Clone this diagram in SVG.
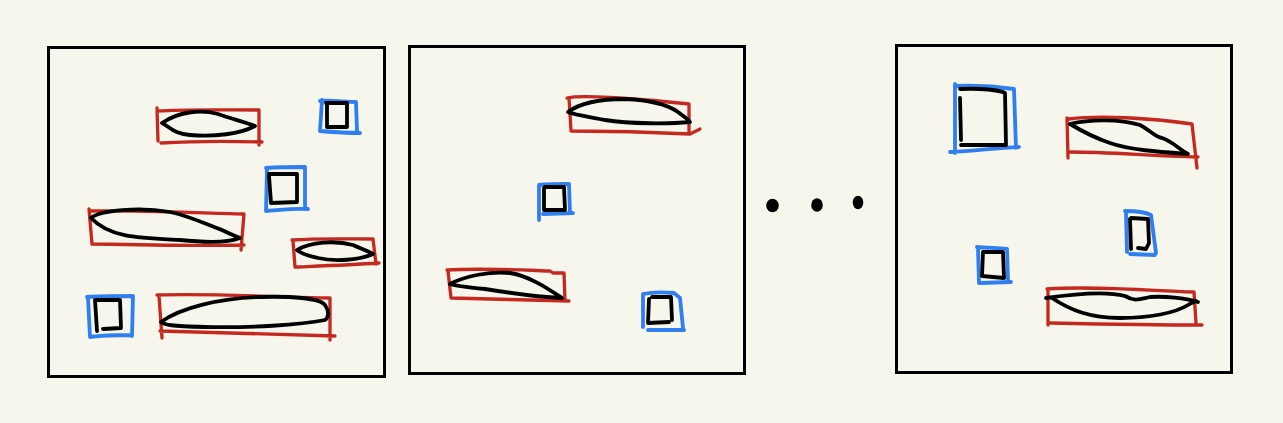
<svg xmlns="http://www.w3.org/2000/svg" width="1283" height="423" viewBox="0 0 1283 423">
<style>
.frame{fill:none;stroke:#000;stroke-width:3;stroke-linejoin:miter}
.red{fill:none;stroke:#c4281f;stroke-width:3.3;stroke-linecap:round;stroke-linejoin:round}
.blue{fill:none;stroke:#2f7ff0;stroke-width:3.8;stroke-linecap:round;stroke-linejoin:round}
.ink{fill:none;stroke:#000;stroke-width:3.8;stroke-linecap:round;stroke-linejoin:round}
</style>
<rect width="1283" height="423" fill="#f6f6ec"/>
<g id="panel1">
<rect class="frame" x="48.5" y="47.5" width="336" height="329"/>
<path class="red" d="M157,108 L158,141 M157,111 C190,109 225,110 259,110 L259,145 M161,143 C195,141 230,141 262,142"/>
<path class="ink" d="M162,123 C178,112 200,109 218,114 C232,119 245,122 255,126 C240,134 215,137 190,135 C174,134 170,127 162,123 Z"/>
<path class="blue" d="M320,101 C333,100 345,102 356,102 L357,131 M322,100 L320,131 C332,132 348,133 360,133"/>
<path class="ink" d="M326,103 L347,103 L347,127 L327,127 L327,105"/>
<path class="blue" d="M266,168 C280,167 292,167 305,167 L305,206 M267,169 L266,211 C280,210 295,208 308,209"/>
<path class="ink" d="M269,174 L297,174 L297,202 L271,203 L269,176"/>
<path class="red" d="M89,209 L92,244 M90,211 C140,210 195,213 244,214 L241,250 M93,244 C140,245 200,246 244,245"/>
<path class="ink" d="M91,218 C100,210 140,207 170,212 C190,216 210,226 222,230 C232,235 238,237 240,238 C230,242 210,243 180,240 C140,238 110,238 91,218 Z"/>
<path class="red" d="M292,240 C320,238 350,239 373,239 L376,264 M293,241 L295,267 C320,266 350,265 379,263"/>
<path class="ink" d="M297,250 C310,242 335,240 353,245 C362,249 370,252 373,254 C360,260 335,262 318,258 C305,255 300,253 297,250 Z"/>
<path class="blue" d="M87,297 C102,296 118,296 133,296 L132,336 M88,298 L90,337 C104,335 118,335 132,335"/>
<path class="ink" d="M95,300 L97,331 M96,300 L120,300 L121,328 L103,329"/>
<path class="red" d="M157,295 C210,293 270,297 330,298 L330,340 M159,296 L162,338 M160,331 C210,332 270,334 335,336"/>
<path class="ink" d="M161,322 C180,308 220,298 260,297 C290,296 320,298 325,305 C330,312 328,318 325,320 C300,325 250,328 205,327 C170,326 165,325 161,322 Z"/>
</g>
<g id="panel2">
<rect class="frame" x="409.5" y="46.5" width="335" height="327"/>
<path class="red" d="M567,98 C580,95 600,97 620,98 C650,100 670,102 689,104 L689,132 M569,98 L571,131 C610,131 650,132 690,134 L700,129"/>
<path class="ink" d="M568,112 C580,103 600,99 625,99 C650,100 668,105 678,112 C683,116 688,119 690,122 C670,124 630,124 605,120 C590,117 575,115 568,112 Z"/>
<path class="blue" d="M539,185 C550,184 560,184 569,184 L570,213 M539,186 L539,220 M543,214 L573,213"/>
<path class="ink" d="M544,188 L544,210 L565,210 L564,187 L545,187"/>
<path class="red" d="M447,270 C480,268 520,270 550,271 L553,273 L564,273 L565,301 M448,271 L451,298 C490,299 530,300 569,301"/>
<path class="ink" d="M450,284 C465,276 490,271 510,273 C530,276 550,290 562,298 C540,297 510,293 485,289 C465,287 455,286 450,284 Z"/>
<path class="blue" d="M643,294 C652,292 663,292 674,293 L680,298 L683,328 M643,294 L643,327 M648,330 C660,330 672,330 684,330"/>
<path class="ink" d="M649,299 L648,323 L669,322 M652,297 L671,297 L672,320"/>
</g>
<g id="ellipsis">
<ellipse cx="772.5" cy="205.5" rx="6.3" ry="6.7"/>
<ellipse cx="817" cy="205" rx="5.8" ry="6.7"/>
<ellipse cx="858" cy="202.5" rx="5.3" ry="6.7"/>
</g>
<g id="panel3">
<rect class="frame" x="896.5" y="45.5" width="335" height="327"/>
<path class="blue" d="M955,84 L955,153 M956,86 C980,85 1000,87 1014,89 L1016,148 M950,152 C975,151 995,148 1019,147"/>
<path class="ink" d="M960,98 L961,140 M960,89 C980,88 1000,90 1005,93 L1006,145 L961,145"/>
<path class="red" d="M1067,118 L1068,158 M1069,119 C1100,115 1150,118 1192,124 L1197,168 M1070,152 C1110,152 1150,156 1198,157"/>
<path class="ink" d="M1070,124 C1090,119 1120,119 1140,125 C1150,130 1155,137 1162,138 C1172,141 1180,150 1188,154 C1160,152 1130,150 1110,143 C1095,138 1080,130 1070,124 Z"/>
<path class="blue" d="M1125,211 C1135,211 1145,212 1151,215 L1156,253 M1126,212 L1127,252 M1130,254 L1155,255"/>
<path class="ink" d="M1130,219 L1131,249 M1131,218 L1148,219 L1149,243 L1146,249 L1138,248"/>
<path class="blue" d="M977,247 C988,248 998,248 1007,249 L1008,280 M978,248 L979,283 M980,283 L1011,282"/>
<path class="ink" d="M983,252 L982,276 L1004,278 L1003,252 L984,252"/>
<path class="red" d="M1047,289 C1090,286 1140,290 1194,292 L1196,323 M1048,290 L1048,325 M1050,323 C1100,324 1150,325 1202,325"/>
<path class="ink" d="M1046,298 C1080,293 1110,292 1125,296 C1135,302 1140,299 1150,297 C1165,296 1185,298 1198,302 M1052,298 C1070,310 1090,318 1120,318 C1150,318 1175,313 1188,305 C1193,302 1195,302 1196,301"/>
</g>
</svg>
